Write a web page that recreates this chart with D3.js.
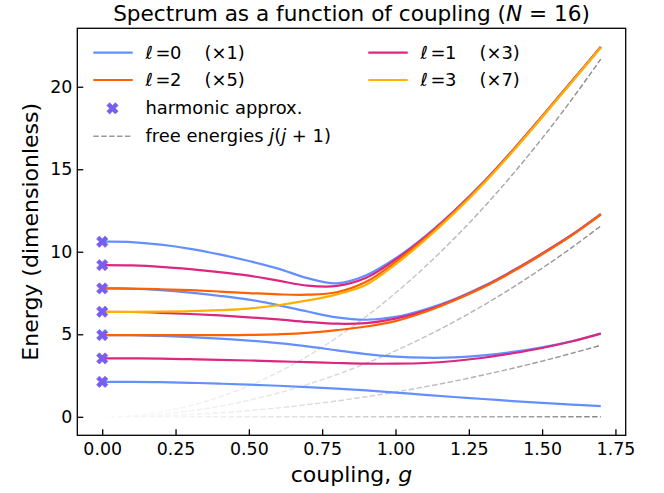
<!DOCTYPE html>
<html lang="en">
<head>
  <meta charset="UTF-8">
  <title>Spectrum as a function of coupling</title>
  <script src="https://d3js.org/d3.v7.min.js"></script>
  <style>
    body { margin: 0; background: #fff; }
    text { font-family: "DejaVu Sans", sans-serif; fill: #000; }
  </style>
</head>
<body>
  <div id="my_dataviz"></div>
  <script>

    var g = [0, 0.1, 0.2, 0.3, 0.4, 0.5, 0.6, 0.7, 0.8, 0.9, 1.0, 1.1, 1.2, 1.3, 1.4, 1.5, 1.6, 1.7];

    // energy levels, one array per (l, n)
    var l0n0 = [2.12, 2.12, 2.10, 2.06, 2.01, 1.95, 1.88, 1.80, 1.71, 1.60, 1.47, 1.33, 1.20, 1.08, 0.95, 0.84, 0.74, 0.65];
    var l0n1 = [4.95, 4.94, 4.90, 4.83, 4.74, 4.62, 4.46, 4.27, 4.03, 3.80, 3.65, 3.58, 3.60, 3.72, 3.93, 4.21, 4.58, 5.05];
    var l0n2 = [7.78, 7.76, 7.67, 7.52, 7.33, 7.10, 6.77, 6.38, 6.02, 5.88, 6.05, 6.50, 7.12, 7.92, 8.86, 9.90, 11.02, 12.30];
    var l0n3 = [10.61, 10.59, 10.43, 10.18, 9.84, 9.44, 8.98, 8.40, 8.09, 8.58, 9.60, 10.92, 12.48, 14.22, 16.16, 18.22, 20.32, 22.42];
    var l1n0 = [3.54, 3.54, 3.52, 3.49, 3.45, 3.41, 3.36, 3.31, 3.26, 3.22, 3.22, 3.26, 3.38, 3.58, 3.85, 4.17, 4.56, 5.04];
    var l1n1 = [6.36, 6.35, 6.30, 6.23, 6.14, 6.03, 5.90, 5.75, 5.64, 5.68, 5.95, 6.42, 7.08, 7.88, 8.83, 9.88, 11.00, 12.27];
    var l1n2 = [9.19, 9.17, 9.09, 8.95, 8.77, 8.55, 8.25, 7.95, 7.93, 8.42, 9.52, 10.87, 12.45, 14.20, 16.14, 18.20, 20.30, 22.40];
    var l2n0 = [4.95, 4.95, 4.95, 4.95, 4.95, 4.96, 5.00, 5.08, 5.25, 5.47, 5.80, 6.35, 7.05, 7.85, 8.80, 9.85, 10.98, 12.25];
    var l2n1 = [7.78, 7.77, 7.73, 7.67, 7.59, 7.50, 7.42, 7.40, 7.55, 8.18, 9.38, 10.80, 12.40, 14.16, 16.12, 18.18, 20.28, 22.39];
    var l3n0 = [6.36, 6.36, 6.37, 6.40, 6.46, 6.56, 6.76, 7.05, 7.42, 8.00, 9.24, 10.70, 12.33, 14.12, 16.08, 18.15, 20.26, 22.37];

    // free energies (dashed), j = 0..3
    var free0 = [0, 0, 0, 0, 0, 0, 0, 0, 0, 0, 0, 0, 0, 0, 0, 0, 0, 0];
    var free1 = [0, 0.015, 0.06, 0.135, 0.24, 0.375, 0.54, 0.735, 0.96, 1.215, 1.5, 1.815, 2.16, 2.535, 2.94, 3.375, 3.84, 4.335];
    var free2 = [0, 0.04, 0.16, 0.36, 0.64, 1.0, 1.44, 1.96, 2.56, 3.24, 4.0, 4.84, 5.76, 6.76, 7.84, 9.0, 10.24, 11.56];
    var free3 = [0, 0.075, 0.3, 0.675, 1.2, 1.875, 2.7, 3.675, 4.8, 6.075, 7.5, 9.075, 10.8, 12.675, 14.7, 16.875, 19.2, 21.675];

    // harmonic approximation at g = 0
    var harmonic = [2.121, 3.536, 4.950, 6.364, 7.778, 9.192, 10.607];

    var xTicks = [0, 0.25, 0.5, 0.75, 1.0, 1.25, 1.5, 1.75];
    var yTicks = [0, 5, 10, 15, 20];

    var colors = { 0: "#648FFF", 1: "#DC267F", 2: "#FE6100", 3: "#FFB000" };
    var levels = [
      { l: 0, e: l0n0 }, { l: 0, e: l0n1 }, { l: 0, e: l0n2 }, { l: 0, e: l0n3 },
      { l: 1, e: l1n0 }, { l: 1, e: l1n1 }, { l: 1, e: l1n2 },
      { l: 2, e: l2n0 }, { l: 2, e: l2n1 },
      { l: 3, e: l3n0 }
    ];
    var freeLines = [free0, free1, free2, free3];

    var margin = { top: 28.3, left: 77.3 },
      width = 548.4,
      height = 407;

    var svg = d3.select("#my_dataviz")
      .append("svg")
      .attr("width", 664)
      .attr("height", 493);

    var plot = svg.append("g")
      .attr("transform", "translate(" + margin.left + "," + margin.top + ")");

    // scales, 5% padding like matplotlib
    var x = d3.scaleLinear()
      .domain([-0.085, 1.785])
      .range([0, width]);

    var yMax = d3.max(levels, function (d) { return d3.max(d.e); });
    var pad = 0.05 * yMax;
    var y = d3.scaleLinear()
      .domain([-pad, yMax + pad])
      .range([height, 0]);

    // fading dashed lines
    var defs = svg.append("defs");
    var grad = defs.append("linearGradient")
      .attr("id", "fade")
      .attr("gradientUnits", "userSpaceOnUse")
      .attr("x1", x(0)).attr("x2", x(1.7))
      .attr("y1", 0).attr("y2", 0);
    [[0, 0], [0.3, 0.14], [0.6, 0.36], [1, 0.78]].forEach(function (s) {
      grad.append("stop")
        .attr("offset", s[0])
        .attr("stop-color", "#666")
        .attr("stop-opacity", s[1]);
    });

    var line = d3.line()
      .x(function (d, i) { return x(g[i]); })
      .y(function (d) { return y(d); })
      .curve(d3.curveCatmullRom.alpha(0.5));

    plot.append("g")
      .selectAll("path")
      .data(freeLines)
      .enter()
      .append("path")
      .attr("d", line)
      .attr("fill", "none")
      .attr("stroke", "url(#fade)")
      .attr("stroke-width", 1.4)
      .attr("stroke-dasharray", "5.5,2.4");

    plot.append("g")
      .selectAll("path")
      .data(levels)
      .enter()
      .append("path")
      .attr("d", function (d) { return line(d.e); })
      .attr("fill", "none")
      .attr("stroke", function (d) { return colors[d.l]; })
      .attr("stroke-width", 2.2);

    var cross = d3.symbol().type(d3.symbolCross).size(80);
    plot.append("g")
      .selectAll("path")
      .data(harmonic)
      .enter()
      .append("path")
      .attr("d", cross)
      .attr("transform", function (d) { return "translate(" + x(0) + "," + y(d) + ") rotate(45)"; })
      .attr("fill", "#785EF0")
      .attr("stroke", "#785EF0")
      .attr("stroke-width", 0.6);

    // axes, ticks pointing inward
    var xAxis = plot.append("g")
      .attr("transform", "translate(0," + height + ")")
      .call(d3.axisBottom(x).tickValues(xTicks).tickFormat(d3.format(".2f"))
        .tickSizeInner(-6).tickSizeOuter(0).tickPadding(7.3));
    var yAxis = plot.append("g")
      .call(d3.axisLeft(y).tickValues(yTicks).tickFormat(d3.format("d"))
        .tickSizeInner(-6).tickSizeOuter(0).tickPadding(5));
    [xAxis, yAxis].forEach(function (a) {
      a.select(".domain").remove();
      a.selectAll("line").attr("stroke", "#000").attr("stroke-width", 1.3);
      a.selectAll("text")
        .style("font-family", "DejaVu Sans")
        .style("font-size", "17.4px")
        .attr("fill", "#000");
    });

    plot.append("rect")
      .attr("width", width)
      .attr("height", height)
      .attr("fill", "none")
      .attr("stroke", "#000")
      .attr("stroke-width", 1.3);

    // labels
    var title = svg.append("text")
      .attr("x", margin.left + width / 2)
      .attr("y", 21)
      .attr("text-anchor", "middle")
      .style("font-size", "21.6px");
    title.append("tspan").text("Spectrum as a function of coupling (");
    title.append("tspan").attr("font-style", "italic").text("N");
    title.append("tspan").text(" = 16)");

    var xl = svg.append("text")
      .attr("x", margin.left + width / 2)
      .attr("y", 482)
      .attr("text-anchor", "middle")
      .style("font-size", "22px");
    xl.append("tspan").text("coupling, ");
    xl.append("tspan").attr("font-style", "italic").text("g");

    svg.append("text")
      .attr("transform", "translate(38," + (margin.top + height / 2) + ") rotate(-90)")
      .attr("text-anchor", "middle")
      .style("font-size", "22px")
      .text("Energy (dimensionless)");

    // legend
    var legendItems = [
      { l: 0, deg: 1, x: 93.3, y: 52.7 },
      { l: 2, deg: 5, x: 93.3, y: 80 },
      { l: 1, deg: 3, x: 368.3, y: 52.7 },
      { l: 3, deg: 7, x: 368.3, y: 80 }
    ];
    var legend = svg.append("g");
    legendItems.forEach(function (d) {
      legend.append("line")
        .attr("x1", d.x).attr("x2", d.x + 39.4)
        .attr("y1", d.y).attr("y2", d.y)
        .attr("stroke", colors[d.l])
        .attr("stroke-width", 2.2);
      var t = legend.append("text")
        .attr("y", d.y + 5.9)
        .style("font-size", "17.9px");
      var x0 = d.x + 52.2;
      t.append("tspan").attr("x", x0).attr("font-style", "italic").text("\u2113");
      t.append("tspan").attr("x", x0 + 10).text("=");
      t.append("tspan").attr("x", x0 + 24.5).text(d.l);
      t.append("tspan").attr("x", x0 + 59).text("(\u00d7" + d.deg + ")");
    });

    legend.append("path")
      .attr("d", cross)
      .attr("transform", "translate(112.5,108.3) rotate(45)")
      .attr("fill", "#785EF0")
      .attr("stroke", "#785EF0")
      .attr("stroke-width", 0.6);
    legend.append("text")
      .attr("x", 145.5).attr("y", 108.3 + 5.9)
      .style("font-size", "17.9px")
      .text("harmonic approx.");

    legend.append("line")
      .attr("x1", 93.3).attr("x2", 132.7)
      .attr("y1", 136.2).attr("y2", 136.2)
      .attr("stroke", "#666")
      .attr("stroke-opacity", 0.65)
      .attr("stroke-width", 1.4)
      .attr("stroke-dasharray", "5.5,2.4");
    var ft = legend.append("text")
      .attr("x", 145.5).attr("y", 136.2 + 5.9)
      .style("font-size", "17.9px");
    ft.append("tspan").text("free energies ");
    ft.append("tspan").attr("font-style", "italic").text("j");
    ft.append("tspan").text("(");
    ft.append("tspan").attr("font-style", "italic").text("j");
    ft.append("tspan").text(" + 1)");

  </script>
</body>
</html>
